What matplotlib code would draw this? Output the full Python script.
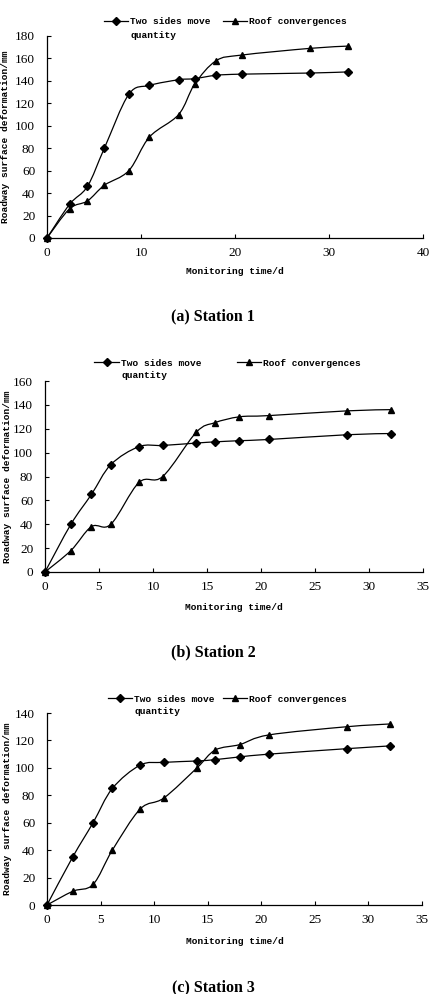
import numpy as np
import matplotlib
matplotlib.use("Agg")
import matplotlib.pyplot as plt
from matplotlib.path import Path
from matplotlib.patches import PathPatch
from matplotlib.lines import Line2D

# monitoring days (same for every station)
days = [0, 2.4, 4.3, 6.1, 8.7, 10.9, 14.0, 15.7, 18.0, 20.7, 28.0, 32.0]

# station 1
sides_1 = [0, 30, 46, 80, 128, 136, 141, 142, 145, 146, 147, 148]
roof_1 = [0, 26, 33, 47, 60, 90, 110, 137, 158, 163, 169, 171]
# station 2
sides_2 = [0, 40, 65, 90, 105, 106, 108, 109, 110, 111, 115, 116]
roof_2 = [0, 18, 38, 40, 75, 80, 117, 125, 130, 131, 135, 136]
# station 3
sides_3 = [0, 35, 60, 85, 102, 104, 105, 106, 108, 110, 114, 116]
roof_3 = [0, 10, 15, 40, 70, 78, 100, 113, 117, 124, 130, 132]

titles = ["(a) Station 1", "(b) Station 2", "(c) Station 3"]
x_max = [40, 35, 35]
x_step = [10, 5, 5]
y_max = [180, 160, 140]
y_step = 20

W, H = 444, 994
MONO = "Liberation Mono"
SERIF = "Liberation Serif"


def smooth_path(x, y):
    # excel-like smoothed line through the points (catmull-rom as bezier)
    pts = np.column_stack([x, y]).astype(float)
    n = len(pts)
    verts = [pts[0]]
    codes = [Path.MOVETO]
    for i in range(n - 1):
        p0 = pts[max(i - 1, 0)]
        p1 = pts[i]
        p2 = pts[i + 1]
        p3 = pts[min(i + 2, n - 1)]
        verts += [p1 + (p2 - p0) / 6.0, p2 - (p3 - p1) / 6.0, p2]
        codes += [Path.CURVE4] * 3
    return Path(verts, codes)


def fx(x):
    return x / W


def fy(y):
    return 1 - y / H


fig = plt.figure(figsize=(W / 100, H / 100), dpi=100)

# axes boxes in pixels: left, right, top, bottom
boxes = [(47, 423, 36, 238), (45, 423, 381, 572), (47, 422, 713, 905)]
ylabel_x = [6, 7, 8]
legend_y = [21, 362, 698]
legend_a = [(104, 128), (94, 119), (108, 132)]
legend_b = [(223, 247), (237, 261), (223, 247)]
xlabel_y = [271, 608, 942]
title_y = [316, 652, 987]

series = [(sides_1, roof_1), (sides_2, roof_2), (sides_3, roof_3)]
markers = [("D", 4.2), ("^", 5)]

for k in range(3):
    l, r, t, b = boxes[k]
    ax = fig.add_axes([fx(l), fy(b), (r - l) / W, (b - t) / H])
    sides, roof = series[k]

    for vals, (mk, ms) in zip([sides, roof], markers):
        ax.add_patch(PathPatch(smooth_path(days, vals), fill=False,
                               edgecolor="black", lw=0.9, clip_on=False))
        ax.plot(days, vals, linestyle="none", marker=mk, ms=ms,
                color="black", clip_on=False, zorder=3)

    ax.set_xlim(0, x_max[k])
    ax.set_ylim(0, y_max[k])
    ax.set_xticks(np.arange(0, x_max[k] + 1, x_step[k]))
    ax.set_yticks(np.arange(0, y_max[k] + 1, y_step))
    for s in ["top", "right"]:
        ax.spines[s].set_visible(False)
    for s in ["left", "bottom"]:
        ax.spines[s].set_linewidth(0.9)
    ax.tick_params(axis="both", direction="in", length=3, width=0.8,
                   labelsize=9.5)
    ax.tick_params(axis="x", pad=6.5)
    ax.tick_params(axis="y", pad=8.5)
    for lab in ax.get_xticklabels() + ax.get_yticklabels():
        lab.set_fontfamily(SERIF)

    ax.set_ylabel("Roadway surface deformation/mm", fontfamily=MONO,
                  fontweight="bold", fontsize=6.8, va="center")
    ax.yaxis.set_label_coords((ylabel_x[k] - l) / (r - l), 0.5)
    fig.text(fx((l + r) / 2), fy(xlabel_y[k]), "Monitoring time/d",
             fontfamily=MONO, fontweight="bold", fontsize=6.8,
             ha="center", va="center")

    # legend drawn by hand so the key sits on the first label line
    ly = legend_y[k]
    for (x0, x1), (mk, ms), label in zip(
            [legend_a[k], legend_b[k]], markers,
            ["Two sides move", "Roof convergences"]):
        fig.add_artist(Line2D([fx(x0), fx(x1)], [fy(ly), fy(ly)],
                              color="black", lw=0.9))
        fig.add_artist(Line2D([fx((x0 + x1) / 2)], [fy(ly)], marker=mk,
                              ms=ms, color="black"))
        fig.text(fx(x1 + 2), fy(ly + 1), label, fontfamily=MONO,
                 fontweight="bold", fontsize=6.8, ha="left", va="center")
    fig.text(fx(legend_a[k][1] + 2), fy(ly + 14), "quantity",
             fontfamily=MONO, fontweight="bold", fontsize=6.8,
             ha="left", va="center")

    fig.text(fx(213), fy(title_y[k]), titles[k], fontfamily=SERIF,
             fontweight="bold", fontsize=11.5, ha="center", va="center")

fig.savefig("out.png", dpi=100)
